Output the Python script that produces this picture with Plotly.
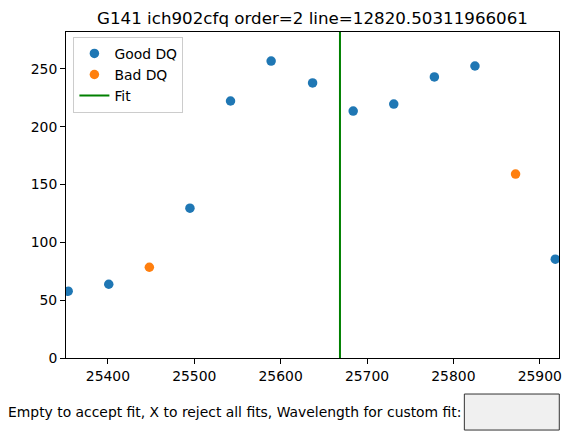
import plotly.graph_objects as go

# ── 資料 ──────────────────────────────────────────────
TITLE = "G141 ich902cfq order=2 line=12820.50311966061"

good_x = [25354, 25401, 25495, 25542, 25589, 25637, 25684, 25731, 25778, 25825, 25918]
good_y = [57.8, 63.8, 129.6, 222.3, 256.9, 237.9, 213.6, 219.7, 243.1, 252.6, 85.5]

bad_x = [25448, 25872]
bad_y = [78.5, 159.1]

fit_x = 25668.7

x_range = [25351.5, 25922.3]
y_range = [0, 282]
x_ticks = [25400, 25500, 25600, 25700, 25800, 25900]
y_ticks = [0, 50, 100, 150, 200, 250]

prompt_text = "Empty to accept fit, X to reject all fits, Wavelength for custom fit:"

FONT = "DejaVu Sans"

fig = go.Figure()

fig.add_trace(go.Scatter(
    x=good_x, y=good_y, mode="markers", name="Good DQ",
    marker=dict(color="#1f77b4", size=9.5),
))
fig.add_trace(go.Scatter(
    x=bad_x, y=bad_y, mode="markers", name="Bad DQ",
    marker=dict(color="#ff7f0e", size=9.5),
))
# axvline 風格：從底到頂
fig.add_trace(go.Scatter(
    x=[fit_x, fit_x], y=y_range, mode="lines", name="Fit",
    line=dict(color="green", width=2),
))

axis_style = dict(
    showline=True, linecolor="black", linewidth=1, mirror=True,
    ticks="outside", ticklen=5, tickcolor="black", tickwidth=1,
    showgrid=False, zeroline=False, tickformat="d",
    tickfont=dict(family=FONT, size=13.9, color="black"),
)
fig.update_xaxes(range=x_range, tickvals=x_ticks, **axis_style)
fig.update_yaxes(range=y_range, tickvals=y_ticks, **axis_style)

# ── 下方輸入框（TextBox 外觀）────────────────────────
fig.add_shape(
    type="rect", xref="paper", yref="paper",
    x0=0.808, x1=1.0006, y0=-0.221, y1=-0.1105,
    fillcolor="#f0f0f0", line=dict(color="#333333", width=1),
)
fig.add_annotation(
    text=prompt_text, xref="paper", yref="paper",
    x=0.806, y=-0.166, xanchor="right", yanchor="middle",
    showarrow=False, font=dict(family=FONT, size=13.9, color="black"),
)

fig.update_layout(
    width=573, height=445,
    margin=dict(l=66, r=11, t=32, b=87),
    paper_bgcolor="white", plot_bgcolor="white",
    font=dict(family=FONT, color="black"),
    title=dict(
        text=TITLE, x=0.5, xref="paper", y=1 - 18 / 445, yref="container",
        xanchor="center", yanchor="middle",
        font=dict(family=FONT, size=16.7, color="black"),
    ),
    showlegend=True,
    legend=dict(
        x=0.015, y=0.985, xanchor="left", yanchor="top",
        bgcolor="rgba(255,255,255,0.8)", bordercolor="#cccccc", borderwidth=1,
        font=dict(family=FONT, size=13.9, color="black"),
        tracegroupgap=0,
    ),
)

# body 預設 8px margin 會讓圖偏移，歸零
fig.write_html(
    "out.html",
    config={"displayModeBar": False},
    post_script="document.body.style.margin='0';",
)
